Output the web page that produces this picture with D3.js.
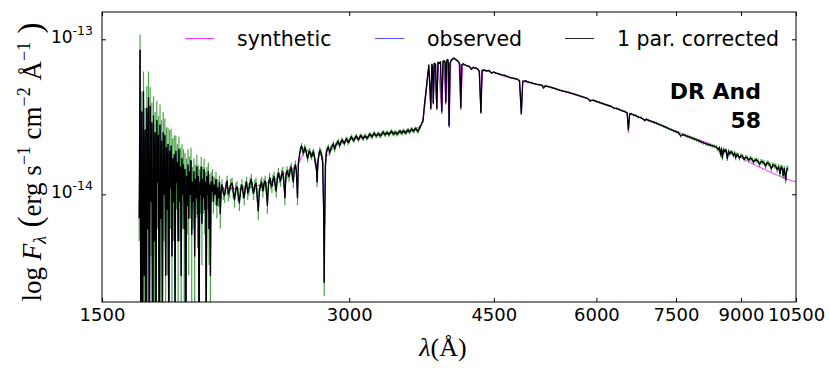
<!DOCTYPE html>
<html>
<head>
<meta charset="utf-8">
<script src="https://cdn.jsdelivr.net/npm/d3@7"></script>
<style>
  body { margin: 0; background: #fff; }
  svg { display: block; }
</style>
</head>
<body>
<svg></svg>
<script>
const width = 830;
const height = 368;
const margin = { top: 12, right: 34, bottom: 66, left: 102 };

// flux values are in units of 1e-14 erg s^-1 cm^-2 A^-1
const FLUX_UNIT = 1e-14;

const xTicks = [1500, 3000, 4500, 6000, 7500, 9000, 10500];
const yTicks = [1e-14, 1e-13];
const yTickExp = ["-14", "-13"];

const legendNames = ["synthetic", "observed", "1 par. corrected"];
const starName = ["DR And", "58"];

// observed spectrum: [wavelength, flux, error]
const uvRows = [
  [1665, 0.70, 0.20], [1669, 8.50, 2.20], [1673, 0.05, 0.40], [1677, 3.40, 1.20],
  [1681, 0.08, 0.50], [1685, 4.60, 1.60], [1689, 0.30, 0.40], [1693, 2.60, 1.00],
  [1697, 0.04, 0.50], [1701, 3.60, 1.40], [1705, 0.60, 0.50], [1709, 4.20, 2.00],
  [1713, 0.05, 0.60], [1717, 3.70, 1.20], [1721, 0.90, 0.50], [1725, 2.90, 1.00],
  [1729, 0.03, 0.50], [1733, 3.20, 1.10], [1737, 0.50, 0.50], [1741, 2.50, 0.90],
  [1745, 0.10, 0.50], [1749, 3.00, 1.00], [1753, 1.20, 0.60], [1757, 2.40, 0.80],
  [1761, 0.05, 0.60], [1765, 2.80, 1.00], [1769, 0.70, 0.50], [1773, 2.20, 0.80],
  [1777, 0.15, 0.60], [1781, 2.50, 0.90], [1785, 1.00, 0.50], [1789, 2.40, 0.70],
  [1793, 0.30, 0.60], [1797, 2.00, 0.70], [1801, 0.80, 0.50], [1805, 2.10, 0.60],
  [1809, 0.10, 0.60], [1813, 1.90, 0.70], [1817, 1.10, 0.50], [1821, 2.05, 0.60],
  [1825, 0.40, 0.50], [1829, 1.70, 0.60], [1833, 0.90, 0.40], [1837, 1.80, 0.60],
  [1841, 0.20, 0.50], [1845, 1.90, 0.50], [1849, 1.20, 0.40], [1853, 1.60, 0.50],
  [1857, 0.50, 0.50], [1861, 1.95, 0.40], [1865, 0.90, 0.40], [1869, 1.50, 0.50],
  [1873, 0.30, 0.50], [1877, 1.70, 0.40], [1881, 1.00, 0.40], [1885, 1.55, 0.40],
  [1889, 0.60, 0.40], [1893, 1.45, 0.40], [1897, 0.05, 0.50], [1901, 1.30, 0.40],
  [1905, 0.85, 0.30], [1909, 1.55, 0.40], [1913, 0.70, 0.40], [1917, 1.40, 0.35],
  [1921, 1.00, 0.30], [1925, 1.65, 0.35], [1929, 0.55, 0.40], [1933, 1.20, 0.30],
  [1937, 0.90, 0.30], [1941, 1.40, 0.30], [1945, 0.40, 0.40], [1949, 1.25, 0.30],
  [1953, 0.95, 0.25], [1957, 1.50, 0.30], [1961, 0.75, 0.30], [1965, 1.30, 0.25],
  [1969, 0.10, 0.40], [1973, 1.20, 0.25], [1977, 1.00, 0.25], [1981, 1.50, 0.25],
  [1985, 0.65, 0.30], [1989, 1.25, 0.25], [1993, 0.95, 0.20], [1997, 1.45, 0.25],
  [2001, 0.80, 0.25], [2005, 1.20, 0.20], [2009, 0.15, 0.35], [2013, 1.30, 0.20],
  [2017, 1.00, 0.20], [2021, 1.40, 0.20], [2025, 0.60, 0.25], [2029, 1.15, 0.20],
  [2033, 0.30, 0.30], [2037, 1.20, 0.20], [2041, 1.05, 0.15], [2045, 1.30, 0.15],
  [2050, 0.90, 0.15], [2055, 1.15, 0.15], [2060, 1.00, 0.15], [2065, 1.25, 0.15],
  [2070, 0.85, 0.15], [2075, 1.10, 0.15], [2080, 0.95, 0.12], [2085, 1.20, 0.12],
  [2090, 0.75, 0.15], [2095, 1.05, 0.12]
];

const nuvRows = [
  [2100, 1.15, 0.10], [2108, 1.02, 0.10], [2115, 0.98, 0.10], [2122, 1.10, 0.10],
  [2130, 1.22, 0.10], [2137, 1.00, 0.10], [2145, 1.05, 0.10], [2152, 1.16, 0.10],
  [2160, 1.18, 0.10], [2167, 1.04, 0.10], [2175, 0.92, 0.10], [2182, 1.08, 0.10],
  [2190, 1.12, 0.10], [2197, 1.00, 0.10], [2205, 0.88, 0.10], [2212, 1.06, 0.10],
  [2220, 1.15, 0.10], [2227, 1.04, 0.10], [2235, 0.95, 0.10], [2242, 1.12, 0.10],
  [2250, 1.20, 0.10], [2257, 1.02, 0.10], [2265, 1.08, 0.10], [2272, 1.18, 0.10],
  [2280, 1.25, 0.10], [2287, 1.10, 0.10], [2295, 1.02, 0.10], [2302, 1.14, 0.10],
  [2310, 1.18, 0.10], [2317, 1.00, 0.10], [2325, 0.78, 0.10], [2332, 1.06, 0.10],
  [2340, 1.15, 0.10], [2347, 1.20, 0.10], [2355, 1.05, 0.10], [2362, 1.16, 0.10],
  [2370, 1.22, 0.10], [2377, 1.10, 0.10], [2385, 0.85, 0.10], [2392, 1.14, 0.10],
  [2400, 1.28, 0.10], [2407, 1.18, 0.10], [2415, 1.12, 0.10], [2422, 1.24, 0.10],
  [2430, 1.30, 0.10], [2437, 1.16, 0.10], [2445, 1.05, 0.10], [2452, 1.26, 0.10],
  [2460, 1.38, 0.10], [2467, 1.28, 0.10], [2475, 1.22, 0.10], [2482, 1.34, 0.10],
  [2490, 1.40, 0.10], [2497, 1.22, 0.10], [2505, 0.95, 0.10], [2512, 1.30, 0.10],
  [2520, 1.42, 0.10], [2527, 1.36, 0.10], [2535, 1.30, 0.10], [2542, 1.44, 0.10],
  [2550, 1.50, 0.10], [2557, 1.34, 0.10], [2565, 1.20, 0.10], [2572, 1.46, 0.10],
  [2580, 1.55, 0.10], [2587, 1.40, 0.10], [2595, 0.95, 0.10], [2602, 1.60, 0.09],
  [2610, 1.80, 0.09], [2617, 1.96, 0.09], [2625, 2.05, 0.09], [2632, 1.92, 0.09],
  [2640, 1.85, 0.09], [2647, 2.00, 0.09], [2655, 1.95, 0.09], [2662, 1.82, 0.09],
  [2670, 1.70, 0.09], [2677, 1.86, 0.09], [2685, 1.90, 0.09], [2692, 1.80, 0.09],
  [2700, 1.75, 0.09], [2707, 1.84, 0.09], [2715, 1.88, 0.09], [2722, 1.72, 0.09],
  [2730, 1.55, 0.09], [2736, 1.50, 0.09], [2742, 1.20, 0.09], [2748, 1.62, 0.09],
  [2755, 1.80, 0.09], [2762, 1.92, 0.09], [2770, 1.88, 0.09], [2778, 1.76, 0.09],
  [2785, 1.60, 0.09], [2792, 0.80, 0.07], [2797, 0.27, 0.05], [2801, 0.70, 0.07],
  [2806, 1.50, 0.09], [2813, 1.84, 0.09], [2820, 1.95, 0.09], [2830, 2.02, 0.08],
  [2840, 1.85, 0.08], [2850, 1.98, 0.08], [2860, 2.05, 0.08], [2870, 2.12, 0.08],
  [2880, 1.95, 0.08], [2890, 2.08, 0.08], [2900, 2.15, 0.08], [2910, 2.20, 0.08],
  [2920, 2.05, 0.08], [2930, 2.16, 0.08], [2940, 2.25, 0.08], [2950, 2.18, 0.08],
  [2960, 2.12, 0.08], [2970, 2.24, 0.08], [2980, 2.28, 0.08], [2990, 2.16, 0.08],
  [3000, 2.20, 0.08], [3010, 2.30, 0.08], [3020, 2.35, 0.08], [3030, 2.26, 0.08],
  [3040, 2.22, 0.08], [3050, 2.32, 0.08], [3060, 2.38, 0.08], [3070, 2.30, 0.08],
  [3080, 2.25, 0.08], [3090, 2.34, 0.08], [3100, 2.40, 0.08], [3110, 2.33, 0.08],
  [3120, 2.28, 0.08], [3130, 2.36, 0.08], [3140, 2.38, 0.08], [3150, 2.30, 0.08],
  [3160, 2.32, 0.08], [3170, 2.40, 0.08], [3180, 2.45, 0.08], [3190, 2.38, 0.08],
  [3200, 2.35, 0.08], [3210, 2.44, 0.08], [3220, 2.48, 0.08], [3230, 2.40, 0.08],
  [3240, 2.38, 0.08], [3250, 2.45, 0.08], [3260, 2.46, 0.08], [3270, 2.38, 0.08],
  [3280, 2.40, 0.08], [3290, 2.48, 0.08], [3300, 2.52, 0.08], [3310, 2.45, 0.08],
  [3320, 2.42, 0.08], [3330, 2.49, 0.08], [3340, 2.50, 0.08], [3350, 2.43, 0.08],
  [3360, 2.45, 0.08], [3370, 2.52, 0.08], [3380, 2.55, 0.08], [3390, 2.47, 0.08],
  [3400, 2.44, 0.08], [3410, 2.52, 0.08], [3420, 2.50, 0.08], [3430, 2.44, 0.08],
  [3440, 2.47, 0.08], [3450, 2.53, 0.08], [3460, 2.56, 0.08], [3470, 2.50, 0.08],
  [3480, 2.48, 0.08], [3490, 2.57, 0.08], [3500, 2.55, 0.08], [3510, 2.49, 0.08],
  [3520, 2.50, 0.08], [3530, 2.58, 0.08], [3540, 2.60, 0.08], [3550, 2.52, 0.08],
  [3560, 2.55, 0.08], [3570, 2.63, 0.08], [3580, 2.62, 0.08], [3590, 2.55, 0.08],
  [3600, 2.58, 0.08], [3610, 2.66, 0.08], [3620, 2.64, 0.08], [3630, 2.57, 0.08],
  [3640, 2.55, 0.08], [3650, 2.65, 0.08], [3660, 2.72, 0.08], [3675, 2.85, 0.08]
];

const opticalRows = [
  [3690, 3.01, 0.08], [3705, 3.80, 0.08], [3720, 4.60, 0.08], [3735, 5.60, 0.08],
  [3750, 6.80, 0.08], [3760, 5.20, 0.08], [3771, 3.60, 0.08], [3782, 6.90, 0.08],
  [3790, 6.70, 0.08], [3798, 3.90, 0.08], [3808, 7.00, 0.08], [3822, 6.90, 0.08],
  [3835, 3.60, 0.08], [3848, 7.10, 0.08], [3862, 7.00, 0.08], [3875, 7.15, 0.08],
  [3889, 3.45, 0.08], [3902, 7.20, 0.08], [3915, 7.25, 0.08], [3925, 7.10, 0.08],
  [3933, 3.95, 0.08], [3942, 7.30, 0.08], [3955, 7.40, 0.08], [3962, 7.00, 0.08],
  [3970, 2.80, 0.08], [3980, 7.00, 0.08], [3995, 7.35, 0.08], [4010, 7.50, 0.08],
  [4028, 7.55, 0.08], [4045, 7.40, 0.08], [4060, 7.30, 0.08], [4075, 7.20, 0.08],
  [4090, 6.90, 0.08], [4102, 3.65, 0.08], [4112, 6.80, 0.08], [4130, 6.95, 0.07],
  [4150, 6.85, 0.07], [4175, 6.75, 0.07], [4200, 6.70, 0.07], [4226, 6.40, 0.07],
  [4250, 6.60, 0.07], [4275, 6.55, 0.07], [4300, 6.45, 0.07], [4320, 6.20, 0.07],
  [4340, 3.40, 0.07], [4355, 6.30, 0.07], [4380, 6.35, 0.07], [4410, 6.25, 0.07],
  [4440, 6.30, 0.07], [4470, 6.05, 0.07], [4500, 6.15, 0.07], [4530, 6.05, 0.07],
  [4560, 6.00, 0.07], [4600, 5.90, 0.07], [4640, 5.85, 0.07], [4680, 5.75, 0.07],
  [4720, 5.65, 0.07], [4760, 5.60, 0.07], [4800, 5.55, 0.07], [4835, 5.40, 0.07],
  [4861, 3.34, 0.07], [4880, 5.35, 0.07], [4920, 5.40, 0.07], [4960, 5.30, 0.07],
  [5000, 5.25, 0.07], [5050, 5.15, 0.07], [5100, 5.10, 0.07], [5150, 5.05, 0.07],
  [5172, 4.85, 0.07], [5200, 5.00, 0.07], [5250, 4.95, 0.07], [5300, 4.88, 0.07],
  [5350, 4.80, 0.07], [5400, 4.72, 0.07], [5450, 4.65, 0.07], [5500, 4.60, 0.07],
  [5550, 4.55, 0.06], [5600, 4.48, 0.06], [5650, 4.42, 0.06], [5700, 4.35, 0.06],
  [5750, 4.28, 0.06], [5800, 4.22, 0.06], [5850, 4.16, 0.06], [5895, 4.00, 0.06],
  [5950, 4.05, 0.06], [6000, 3.98, 0.06], [6050, 3.92, 0.06], [6100, 3.86, 0.06],
  [6150, 3.80, 0.06], [6200, 3.75, 0.06], [6250, 3.70, 0.06], [6300, 3.60, 0.06],
  [6350, 3.58, 0.06], [6400, 3.52, 0.06], [6450, 3.46, 0.06], [6500, 3.42, 0.06],
  [6540, 3.35, 0.06], [6563, 2.62, 0.06], [6585, 3.30, 0.06], [6620, 3.30, 0.06],
  [6660, 3.25, 0.06], [6700, 3.22, 0.06], [6750, 3.15, 0.06], [6800, 3.12, 0.06],
  [6870, 3.00, 0.06], [6900, 3.05, 0.06], [6950, 3.00, 0.06], [7000, 2.96, 0.06]
];

const redRows = [
  [7050, 2.92, 0.06], [7100, 2.88, 0.06], [7150, 2.83, 0.06], [7200, 2.79, 0.06],
  [7250, 2.74, 0.06], [7300, 2.70, 0.06], [7350, 2.65, 0.06], [7400, 2.61, 0.06],
  [7450, 2.57, 0.06], [7500, 2.54, 0.06], [7550, 2.50, 0.06], [7600, 2.38, 0.06],
  [7650, 2.43, 0.06], [7700, 2.39, 0.06], [7750, 2.36, 0.06], [7800, 2.33, 0.06],
  [7850, 2.30, 0.06], [7900, 2.27, 0.06], [7950, 2.24, 0.06], [8000, 2.21, 0.06],
  [8050, 2.18, 0.06], [8100, 2.15, 0.06], [8150, 2.12, 0.06], [8200, 2.10, 0.06],
  [8250, 2.08, 0.06], [8300, 2.06, 0.06], [8350, 2.04, 0.06], [8400, 2.02, 0.06],
  [8440, 1.94, 0.06], [8470, 2.00, 0.06], [8498, 1.80, 0.06], [8520, 1.97, 0.06],
  [8542, 1.72, 0.06], [8570, 1.95, 0.06], [8600, 1.89, 0.06], [8630, 1.93, 0.06],
  [8662, 1.70, 0.06], [8690, 1.90, 0.06], [8720, 1.82, 0.06], [8750, 1.88, 0.06],
  [8780, 1.86, 0.06], [8810, 1.78, 0.06], [8840, 1.85, 0.06], [8865, 1.72, 0.06],
  [8900, 1.81, 0.06], [8930, 1.79, 0.06], [8960, 1.71, 0.06], [9000, 1.78, 0.06],
  [9040, 1.76, 0.06], [9080, 1.68, 0.06], [9120, 1.74, 0.06], [9160, 1.72, 0.06],
  [9200, 1.66, 0.06], [9240, 1.71, 0.06], [9280, 1.69, 0.06], [9320, 1.61, 0.06],
  [9360, 1.67, 0.06], [9400, 1.66, 0.06], [9440, 1.64, 0.06], [9480, 1.56, 0.06],
  [9520, 1.63, 0.06], [9560, 1.62, 0.06], [9600, 1.60, 0.06], [9640, 1.52, 0.06],
  [9680, 1.60, 0.06], [9720, 1.58, 0.06], [9760, 1.55, 0.06], [9800, 1.46, 0.06],
  [9840, 1.55, 0.06], [9880, 1.53, 0.06], [9920, 1.52, 0.06], [9960, 1.44, 0.06],
  [10000, 1.51, 0.06], [10040, 1.36, 0.06], [10070, 1.50, 0.06], [10100, 1.48, 0.06],
  [10130, 1.32, 0.06], [10160, 1.47, 0.06], [10200, 1.24, 0.06], [10230, 1.45, 0.06],
  [10260, 1.47, 0.06]
];

// synthetic model spectrum
const synWave = [
  1665, 1700, 1750, 1800, 1850, 1900, 1950, 2000, 2050, 2100, 2200, 2300, 2400, 2500,
  2600, 2650, 2700, 2730, 2741, 2755, 2785, 2797, 2810, 2900, 3000, 3100, 3200, 3300,
  3400, 3500, 3600, 3650, 3690, 3720, 3750, 3771, 3790, 3798, 3810, 3835, 3850, 3889,
  3910, 3933, 3950, 3970, 3990, 4028, 4080, 4102, 4125, 4200, 4300, 4325, 4340, 4355,
  4450, 4550, 4700, 4840, 4861, 4882, 5000, 5200, 5400, 5600, 5800, 6000, 6200, 6400,
  6540, 6563, 6590, 6800, 7000, 7200, 7400, 7600, 7800, 8000, 8200, 8400, 8480, 8498,
  8520, 8542, 8565, 8640, 8662, 8690, 8865, 9000, 9200, 9400, 9600, 9800, 10000, 10200,
  10500
];
const synFlux = [
  1.55, 1.50, 1.40, 1.30, 1.25, 1.20, 1.18, 1.15, 1.12, 1.10, 1.08, 1.12, 1.20, 1.35,
  1.55, 1.95, 1.85, 1.70, 1.30, 1.80, 1.75, 0.50, 1.75, 2.10, 2.25, 2.32, 2.40, 2.46,
  2.50, 2.55, 2.62, 2.72, 2.90, 4.30, 6.50, 3.50, 6.70, 3.80, 6.90, 3.50, 7.00, 3.30,
  7.15, 3.80, 7.30, 2.70, 7.25, 7.45, 7.10, 3.50, 6.85, 6.65, 6.40, 6.30, 3.30, 6.25,
  6.20, 5.95, 5.65, 5.45, 3.25, 5.35, 5.20, 4.98, 4.70, 4.45, 4.20, 3.95, 3.72, 3.50,
  3.35, 2.50, 3.30, 3.10, 2.93, 2.78, 2.62, 2.48, 2.36, 2.25, 2.13, 2.00, 1.96, 1.82,
  1.95, 1.76, 1.93, 1.90, 1.74, 1.88, 1.78, 1.72, 1.62, 1.53, 1.45, 1.38, 1.32, 1.26,
  1.20
];

const observed = [...uvRows, ...nuvRows, ...opticalRows, ...redRows];
const synthetic = synWave.map((w, i) => [w, synFlux[i]]);

const svg = d3.select("svg")
  .attr("width", width)
  .attr("height", height)
  .style("font-family", "'DejaVu Sans', sans-serif");

const x = d3.scaleLog()
  .domain([1500, 10500])
  .range([margin.left, width - margin.right]);

const y = d3.scaleLog()
  .domain([2.02e-15, 1.5e-13])
  .range([height - margin.bottom, margin.top]);

const fy = f => y(Math.max(f, 1e-4) * FLUX_UNIT);

svg.append("defs").append("clipPath")
  .attr("id", "plot-clip")
  .append("rect")
  .attr("x", margin.left)
  .attr("y", margin.top)
  .attr("width", width - margin.left - margin.right)
  .attr("height", height - margin.top - margin.bottom);

const plot = svg.append("g").attr("clip-path", "url(#plot-clip)");

const line = d3.line()
  .x(d => x(d[0]))
  .y(d => fy(d[1]));

plot.append("path")
  .datum(synthetic)
  .attr("fill", "none")
  .attr("stroke", "#ff00ff")
  .attr("stroke-opacity", 0.8)
  .attr("stroke-width", 1)
  .attr("d", line);

plot.append("path")
  .datum(observed)
  .attr("fill", "none")
  .attr("stroke", "#3333ff")
  .attr("stroke-width", 0.8)
  .attr("d", line);

// error bars
plot.append("g")
  .selectAll("line")
  .data(observed)
  .join("line")
  .attr("x1", d => x(d[0]))
  .attr("x2", d => x(d[0]))
  .attr("y1", d => fy(d[1] - d[2]))
  .attr("y2", d => fy(d[1] + d[2]))
  .attr("stroke", "#007a00")
  .attr("stroke-opacity", 0.7)
  .attr("stroke-width", 1.2);

plot.append("path")
  .datum(observed)
  .attr("fill", "none")
  .attr("stroke", "#000")
  .attr("stroke-width", 1.3)
  .attr("stroke-linejoin", "round")
  .attr("d", line);

// axes, ticks pointing inward
const bottom = svg.append("g")
  .attr("transform", `translate(0,${height - margin.bottom})`)
  .call(d3.axisBottom(x).tickValues(xTicks).tickFormat(d3.format("d"))
    .tickSize(-4).tickSizeOuter(0).tickPadding(6));
bottom.selectAll("text").attr("font-size", 18).attr("fill", "#000")
  .style("font-family", "'DejaVu Sans', sans-serif");

svg.append("g")
  .attr("transform", `translate(0,${margin.top})`)
  .call(d3.axisTop(x).tickValues(xTicks).tickFormat("")
    .tickSize(-4).tickSizeOuter(0));

const left = svg.append("g")
  .attr("transform", `translate(${margin.left},0)`)
  .call(d3.axisLeft(y).tickValues(yTicks).tickFormat("")
    .tickSize(-4).tickSizeOuter(0).tickPadding(9));
left.selectAll(".tick text")
  .style("font-family", "'DejaVu Sans', sans-serif")
  .attr("fill", "#000")
  .each(function (d, i) {
    const t = d3.select(this);
    t.append("tspan").attr("font-size", 17).text("10");
    t.append("tspan").attr("font-size", 12.5).attr("dy", "-8").text(yTickExp[i]);
  });

svg.append("g")
  .attr("transform", `translate(${width - margin.right},0)`)
  .call(d3.axisRight(y).tickValues(yTicks).tickFormat("")
    .tickSize(-4).tickSizeOuter(0));

svg.selectAll(".domain").remove();
svg.selectAll(".tick line").attr("stroke", "#000");

svg.append("rect")
  .attr("x", margin.left)
  .attr("y", margin.top)
  .attr("width", width - margin.left - margin.right)
  .attr("height", height - margin.top - margin.bottom)
  .attr("fill", "none")
  .attr("stroke", "#000")
  .attr("stroke-width", 1);

// legend
const legendColors = ["#ff00ff", "#3333ff", "#000"];
const legendX = [185, 375, 565];
const legend = svg.append("g");
legendNames.forEach((name, i) => {
  legend.append("line")
    .attr("x1", legendX[i]).attr("x2", legendX[i] + 29)
    .attr("y1", 38.5).attr("y2", 38.5)
    .attr("stroke", legendColors[i])
    .attr("stroke-opacity", i === 0 ? 0.8 : 0.85)
    .attr("stroke-width", 1);
  legend.append("text")
    .attr("x", legendX[i] + 52)
    .attr("y", 46)
    .attr("font-size", 20.5)
    .text(name);
});

// star label
svg.append("g")
  .attr("font-weight", "bold")
  .attr("font-size", 22)
  .attr("text-anchor", "end")
  .selectAll("text")
  .data(starName)
  .join("text")
  .attr("x", 761)
  .attr("y", (d, i) => 99 + i * 29)
  .text(d => d);

// axis titles
const serif = "'Liberation Serif', 'DejaVu Serif', serif";
const xLabel = svg.append("text")
  .attr("x", 443)
  .attr("y", 356)
  .attr("text-anchor", "middle")
  .attr("font-size", 26)
  .style("font-family", serif);
xLabel.append("tspan").attr("font-style", "italic").text("λ");
xLabel.append("tspan").text("(Å)");

const yLabel = svg.append("text")
  .attr("transform", "translate(41,162) rotate(-90)")
  .attr("text-anchor", "middle")
  .attr("font-size", 27)
  .style("font-family", serif);
yLabel.append("tspan").text("log ");
yLabel.append("tspan").attr("font-style", "italic").text("F");
yLabel.append("tspan").attr("font-style", "italic").attr("font-size", 18).attr("dy", 5).text("λ");
yLabel.append("tspan").attr("dy", -5).attr("font-size", 33).text(" (");
yLabel.append("tspan").text("erg s");
yLabel.append("tspan").attr("font-size", 18).attr("dy", -11).text("−1");
yLabel.append("tspan").attr("dy", 11).text(" cm");
yLabel.append("tspan").attr("font-size", 18).attr("dy", -11).text("−2");
yLabel.append("tspan").attr("dy", 11).text(" Å");
yLabel.append("tspan").attr("font-size", 18).attr("dy", -11).text("−1");
yLabel.append("tspan").attr("dy", 11).attr("font-size", 33).text(" )");
</script>
</body>
</html>
